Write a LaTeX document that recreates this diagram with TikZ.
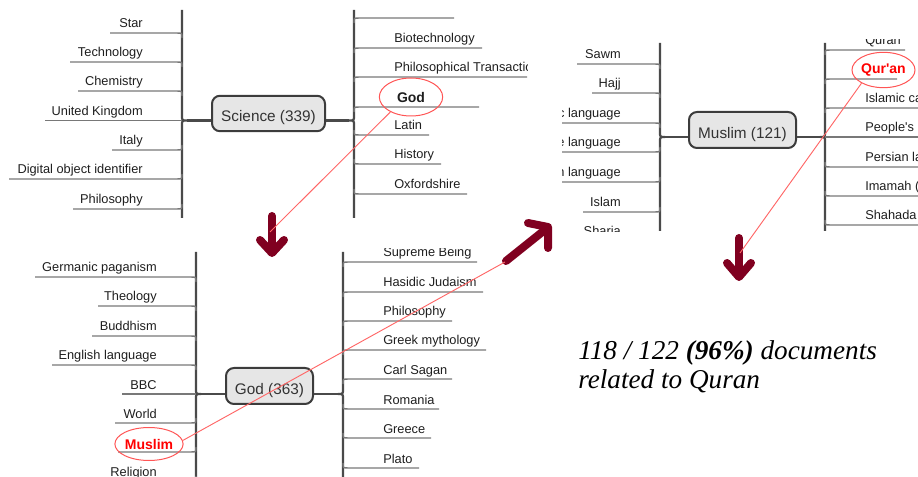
\documentclass[tikz,border=0pt]{standalone}
\usepackage{fontspec}
\setmainfont{Liberation Sans}[Ligatures=TeXOff]
\newfontfamily\capfont{Liberation Serif}
\usetikzlibrary{shapes.geometric}
\definecolor{brgray}{HTML}{787878}
\definecolor{trgray}{HTML}{4A4A4A}
\definecolor{bxborder}{HTML}{3C3C3C}
\definecolor{bxfill}{HTML}{E6E6E6}
\definecolor{bxtext}{HTML}{333333}
\definecolor{txt}{HTML}{1E1E1E}
\definecolor{hlred}{HTML}{FF0000}
\definecolor{ellred}{HTML}{FF5555}
\definecolor{linered}{HTML}{FF6666}
\definecolor{arrred}{HTML}{800020}
% branch lines
\newcommand{\lnLU}[3]{\draw[branch] (#3,#2) -- ({#1-5},#2) .. controls (#1,#2) .. (#1,{#2+5});}
\newcommand{\lnLL}[3]{\draw[branch] (#3,#2) -- ({#1-5},#2) .. controls (#1,#2) .. (#1,{#2-5});}
\newcommand{\lnLJ}[3]{\draw[branch] (#3,#2) -- (#1,#2);}
\newcommand{\lnRU}[3]{\draw[branch] (#1,{#2+5}) .. controls (#1,#2) .. ({#1+5},#2) -- (#3,#2);}
\newcommand{\lnRL}[3]{\draw[branch] (#1,{#2-5}) .. controls (#1,#2) .. ({#1+5},#2) -- (#3,#2);}
\newcommand{\lnRJ}[3]{\draw[branch] (#1,#2) -- (#3,#2);}
% labels
\newcommand{\txL}[4]{\node[lab,anchor=base east] (#4) at ({#1-39},{#2-5}) {#3};}
\newcommand{\txR}[4]{\node[lab,anchor=base west] (#4) at ({#1+40},{#2-5}) {#3};}
% branch + label
\newcommand{\bLU}[5]{\lnLU{#1}{#2}{#3}\txL{#1}{#2}{#4}{#5}}
\newcommand{\bLL}[5]{\lnLL{#1}{#2}{#3}\txL{#1}{#2}{#4}{#5}}
\newcommand{\bLJ}[5]{\lnLJ{#1}{#2}{#3}\txL{#1}{#2}{#4}{#5}}
\newcommand{\bRU}[5]{\lnRU{#1}{#2}{#3}\txR{#1}{#2}{#4}{#5}}
\newcommand{\bRL}[5]{\lnRL{#1}{#2}{#3}\txR{#1}{#2}{#4}{#5}}
\newcommand{\bRJ}[5]{\lnRJ{#1}{#2}{#3}\txR{#1}{#2}{#4}{#5}}
% trunks with brace junction
\newcommand{\trL}[4]{\draw[trunk] (#1,#3) -- (#1,{#2-5}) .. controls (#1,#2) .. ({#1+5},#2) .. controls (#1,#2) .. (#1,{#2+5}) -- (#1,#4);}
\newcommand{\trR}[4]{\draw[trunk] (#1,#3) -- (#1,{#2-5}) .. controls (#1,#2) .. ({#1-5},#2) .. controls (#1,#2) .. (#1,{#2+5}) -- (#1,#4);}
\begin{document}
\begin{tikzpicture}[x=0.75pt,y=-0.75pt,
  branch/.style={draw=brgray, line width=1.1pt},
  trunk/.style={draw=trgray, line width=1.7pt, line join=round},
  conn/.style={draw=trgray, line width=2pt},
  lab/.style={font=\fontsize{9.6}{11}\selectfont, text=txt, inner sep=0pt},
  mbox/.style={draw=bxborder, line width=1.5pt, fill=bxfill, rounded corners=6pt,
    font=\fontsize{11.5}{13}\selectfont, text=bxtext, inner sep=2pt,
    text height=14.7pt, text depth=2.4pt},
  hlell/.style={ellipse, draw=ellred, line width=0.75pt, inner sep=0pt,
    font=\fontsize{10.5}{12}\selectfont\bfseries},
  redln/.style={draw=linered, line width=0.7pt},
  bigarrow/.style={draw=arrred, line width=6pt, line cap=round, line join=round},
  captext/.style={font=\capfont\fontsize{20.4}{24}\selectfont\itshape, text=black, inner sep=0pt}]
\path[use as bounding box] (0,0) rectangle (918,477);
\clip (0,0) rectangle (918,477);

% ================= Science map =================
\begin{scope}
\clip (0,8) rectangle (527,219);
\trL{182}{120.5}{10}{218}
\trR{354}{120.5}{10}{218}
\bLU{182}{33}{110}{Star}{s1}
\bLU{182}{62}{70}{Technology}{s2}
\bLU{182}{91}{78}{Chemistry}{s3}
\bLJ{182}{120.5}{45}{United Kingdom}{s4}
\bLL{182}{150}{112}{Italy}{s5}
\bLL{182}{179}{9}{Digital object identifier}{s6}
\bLL{182}{209}{73}{Philosophy}{s7}
\lnRU{354}{18}{454}
\bRU{354}{48}{482}{Biotechnology}{s9}
\bRU{354}{77}{540}{Philosophical Transactions of the Royal Society}{s10}
\lnRU{354}{107}{479}
\bRL{354}{135}{429}{Latin}{s12}
\bRL{354}{164}{441}{History}{s13}
\bRL{354}{194}{467}{Oxfordshire}{s14}
\node[mbox, minimum width=84.75pt, minimum height=26.6pt] (sbox) at (268.5,113.5) {Science (339)};
\coordinate (sjl) at (187,120.5);
\coordinate (sjr) at (349,120.5);
\draw[conn] (sjl) -- (sjl -| sbox.west);
\draw[conn] (sbox.east |- sjr) -- (sjr);
\end{scope}
\node[hlell, text=txt, minimum width=47.5pt, minimum height=28.5pt] (godell) at (411,97) {God};

% ================= God map =================
\begin{scope}
\clip (0,249) rectangle (560,477);
\trL{196}{394}{252}{480}
\trR{343}{394}{252}{480}
\bLU{196}{277}{35}{Germanic paganism}{g1}
\bLU{196}{306}{98}{Theology}{g2}
\bLU{196}{336}{92}{Buddhism}{g3}
\bLU{196}{365}{52}{English language}{g4}
\bLJ{196}{394}{122}{BBC}{g5}
\bLL{196}{423}{115}{World}{g6}
\lnLL{196}{452}{118}
\bLL{196}{481}{110}{Religion}{g8}
\bRU{343}{262}{477}{Supreme Being}{g9}
\bRU{343}{292}{483}{Hasidic Judaism}{g10}
\bRU{343}{321}{452}{Philosophy}{g11}
\bRU{343}{350}{486}{Greek mythology}{g12}
\bRU{343}{379}{452}{Carl Sagan}{g13}
\bRL{343}{409}{439}{Romania}{g14}
\bRL{343}{438}{431}{Greece}{g15}
\bRL{343}{468}{419}{Plato}{g16}
\node[mbox, minimum width=65.25pt, minimum height=27pt] (gbox) at (269.5,386) {God (363)};
\coordinate (gjl) at (201,394);
\coordinate (gjr) at (338,394);
\draw[conn] (gjl) -- (gjl -| gbox.west);
\draw[conn] (gbox.east |- gjr) -- (gjr);
\end{scope}
\node[hlell, text=hlred, minimum width=48pt, minimum height=24.75pt] (musell) at (149,444) {Muslim};

% ================= Muslim map =================
\begin{scope}
\clip (562,40) rectangle (918,232);
\trL{660}{137}{43}{231}
\trR{825}{137}{43}{231}
\bLU{660}{64}{577}{Sawm}{m1}
\bLU{660}{93}{592}{Hajj}{m2}
\bLU{660}{123}{500}{Arabic language}{m3}
\bLL{660}{152}{500}{Chinese language}{m4}
\bLL{660}{182}{500}{Indonesian language}{m5}
\bLL{660}{212}{583}{Islam}{m6}
\bLL{660}{241}{580}{Sharia}{m7}
\bRU{825}{50}{905}{Quran}{m8}
\lnRU{825}{79}{897}
\bRU{825}{108}{930}{Islamic calendar}{m10}
\bRJ{825}{137}{930}{People's Mujahedin}{m11}
\bRL{825}{167}{930}{Persian language}{m12}
\bRL{825}{196}{930}{Imamah (Shi'a doctrine)}{m13}
\bRL{825}{225}{930}{Shahada}{m14}
\node[mbox, minimum width=80.25pt, minimum height=27pt] (mbox) at (742.5,130) {Muslim (121)};
\coordinate (mjl) at (665,137);
\coordinate (mjr) at (820,137);
\draw[conn] (mjl) -- (mjl -| mbox.west);
\draw[conn] (mbox.east |- mjr) -- (mjr);
\end{scope}
\node[hlell, text=hlred, minimum width=42.5pt, minimum height=26.5pt] (qell) at (883.5,70) {Qur'an};

% ================= big arrows =================
\coordinate (a1top) at (272,216);
\coordinate (a1tip) at (272,253);
\draw[bigarrow] (a1top) -- (272,250);
\draw[bigarrow] (260,240) -- (a1tip) -- (284,240);

\coordinate (a2tail) at (506,261);
\coordinate (a2tip) at (548,227);
\draw[bigarrow] (a2tail) -- (546,229);
\draw[bigarrow] (528,223) -- (a2tip) -- (548,248);

\coordinate (a3top) at (739,238);
\coordinate (a3tip) at (739,277);
\draw[bigarrow] (a3top) -- (739,274);
\draw[bigarrow] (727,263) -- (a3tip) -- (751,263);

% ================= red links =================
\coordinate (a1e) at (270,232);
\coordinate (a2s) at (505,262);
\coordinate (a3e) at (740,253);
\draw[redln] (godell.-144) -- (a1e);
\draw[redln] (musell.6) -- (a2s);
\draw[redln] (qell.-149) -- (a3e);

% ================= caption =================
\node[captext, anchor=base west] (cap1) at (578,359) {118 / 122 \textbf{(96\%)} documents};
\node[captext, anchor=base west] (cap2) at (578,388) {related to Quran};
\end{tikzpicture}
\end{document}
